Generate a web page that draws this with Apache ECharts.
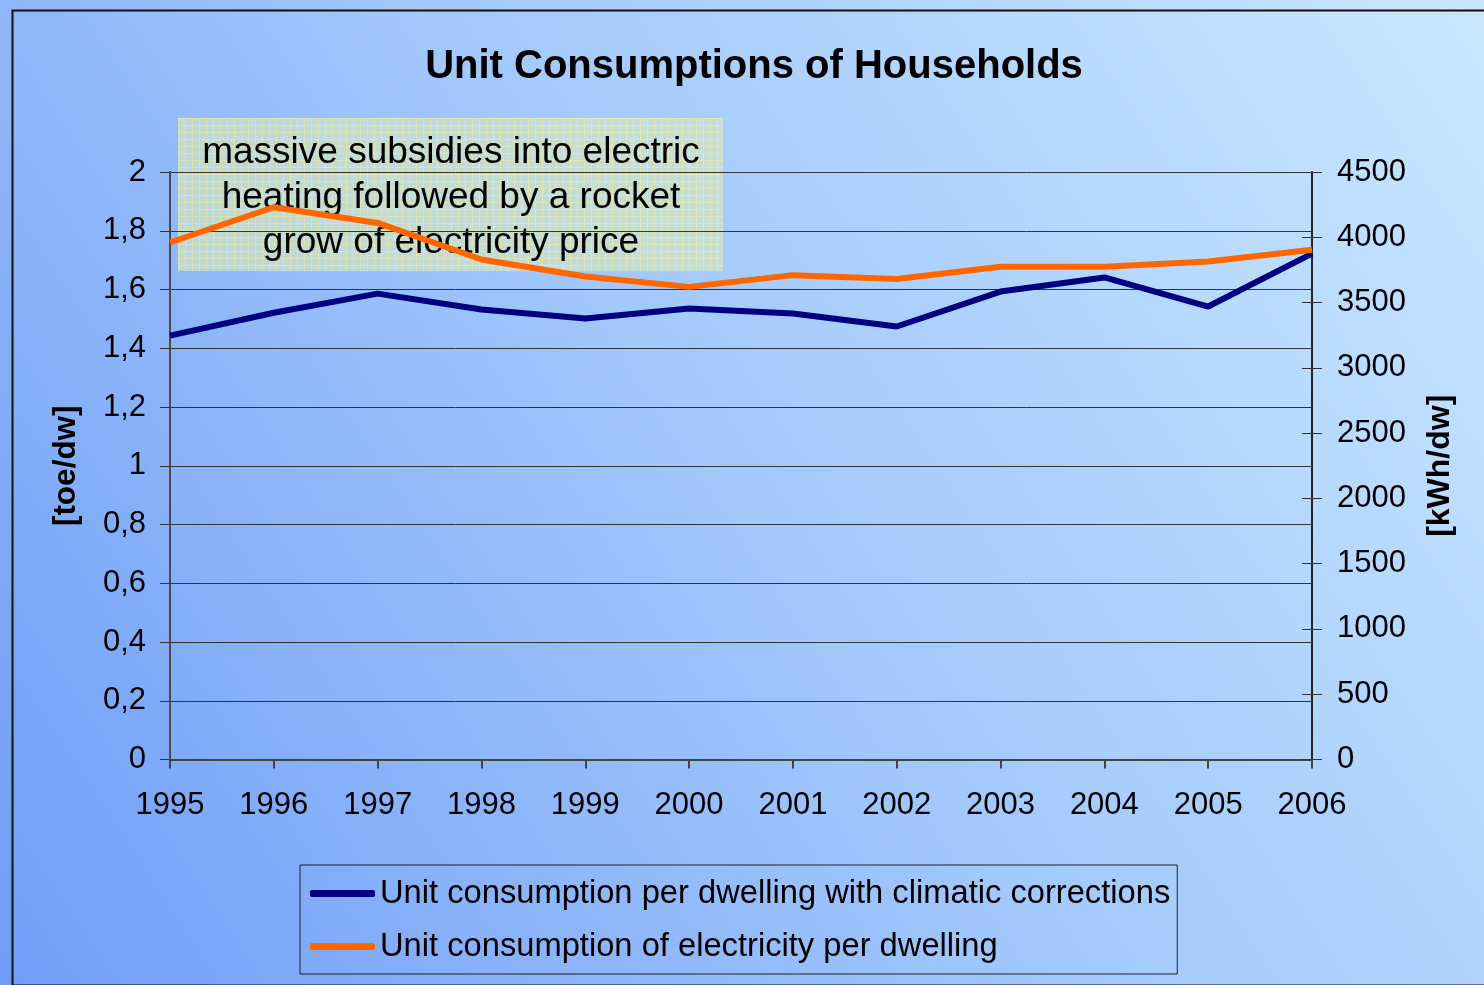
<!DOCTYPE html>
<html>
<head>
<meta charset="utf-8">
<script src="https://cdn.jsdelivr.net/npm/echarts@6/dist/echarts.min.js"></script>
<style>
html,body{margin:0;padding:0;background:#6f9bf4;}
#chart{width:1484px;height:985px;}
</style>
</head>
<body>
<div id="chart"></div>
<script>
// years on the x axis
let years = ["1995","1996","1997","1998","1999","2000","2001","2002","2003","2004","2005","2006"]
// toe per dwelling, climate corrected (left axis)
let unitCons = [1.443,1.521,1.586,1.532,1.501,1.535,1.518,1.474,1.593,1.641,1.542,1.722]
// kWh per dwelling (right axis)
let elecCons = [3960,4230,4110,3830,3700,3620,3710,3680,3775,3775,3815,3905]

let seriesNames = ["Unit consumption per dwelling with climatic corrections","Unit consumption of electricity per dwelling"]
let noteText = "massive subsidies into electric\nheating followed by a rocket\ngrow of electricity price"

let FONT = "Liberation Sans, Arial, sans-serif"

let chart = echarts.init(document.getElementById("chart"))

/** yellow grid pattern for the note box */
function notePattern(){
    let c = document.createElement("canvas")
    c.width = 7
    c.height = 7
    let ctx = c.getContext("2d")
    ctx.fillStyle = "#d3e3c6"
    ctx.fillRect(0,0,7,7)
    ctx.fillStyle = "#f3f39c"
    ctx.fillRect(0,0,7,1)
    ctx.fillRect(0,0,1,7)
    return c
}

let commaFmt = v => String(+v.toFixed(1)).replace(".",",")

chart.setOption({
    backgroundColor:{
        type:"linear",x:0,y:1,x2:1,y2:0,
        colorStops:[
            {offset:0,color:"#709df7"},
            {offset:0.5,color:"#a2c8fc"},
            {offset:1,color:"#c8e7ff"}
        ]
    },
    title:{
        text:"Unit Consumptions of Households",
        left:749,
        top:42,
        textAlign:"center",
        textStyle:{fontFamily:FONT,fontSize:40,fontWeight:"bold",color:"#000"}
    },
    legend:{
        orient:"vertical",
        left:300,
        top:865,
        padding:[12,7,11,10],
        itemGap:20,
        itemWidth:65,
        itemHeight:7,
        icon:"roundRect",
        borderColor:"#222",
        borderWidth:1,
        textStyle:{fontFamily:FONT,fontSize:32.7,color:"#000",lineHeight:32},
        data:seriesNames
    },
    grid:{left:170,right:172,top:172,bottom:225.5,containLabel:false},
    xAxis:{
        type:"category",
        data:years,
        boundaryGap:false,
        axisLine:{lineStyle:{color:"#444",width:2}},
        axisTick:{length:9,lineStyle:{color:"#444",width:2}},
        axisLabel:{fontFamily:FONT,fontSize:31,color:"#000",margin:30}
    },
    yAxis:[
        {
            type:"value",min:0,max:2,interval:0.2,
            name:"[toe/dw]",nameLocation:"middle",nameRotate:90,nameGap:88,
            nameTextStyle:{fontFamily:FONT,fontSize:31.5,fontWeight:"bold",color:"#000"},
            axisLine:{show:true,lineStyle:{color:"#4a4a4a",width:2}},
            axisTick:{show:true,length:10,lineStyle:{color:"#333"}},
            axisLabel:{fontFamily:FONT,fontSize:31,color:"#000",margin:24,formatter:commaFmt},
            splitLine:{show:true,lineStyle:{color:"#333",width:1}}
        },
        {
            type:"value",min:0,max:4500,interval:500,position:"right",
            name:"[kWh/dw]",nameLocation:"middle",nameRotate:90,nameGap:112,
            nameTextStyle:{fontFamily:FONT,fontSize:32,fontWeight:"bold",color:"#000"},
            axisLine:{show:true,lineStyle:{color:"#222",width:2}},
            axisTick:{show:true,length:10,lineStyle:{color:"#333"}},
            axisLabel:{fontFamily:FONT,fontSize:31,color:"#000",margin:25,formatter:v=>String(v)},
            splitLine:{show:false}
        },
        {
            // inner half of the crossing ticks on the right axis
            type:"value",min:0,max:4500,interval:500,position:"right",
            axisLine:{show:false},
            axisTick:{show:true,inside:true,length:10,lineStyle:{color:"#333"}},
            axisLabel:{show:false},
            splitLine:{show:false}
        }
    ],
    series:[
        {
            name:seriesNames[0],
            type:"line",
            yAxisIndex:0,
            data:unitCons,
            symbol:"none",
            lineStyle:{color:"#000080",width:6},
            itemStyle:{color:"#000080"},
            z:3
        },
        {
            name:seriesNames[1],
            type:"line",
            yAxisIndex:1,
            data:elecCons,
            symbol:"none",
            lineStyle:{color:"#ff6600",width:6},
            itemStyle:{color:"#ff6600"},
            z:3
        }
    ],
    graphic:[
        {
            type:"rect",
            left:10,top:8,z:0,silent:true,
            shape:{width:1490,height:975},
            style:{fill:null,stroke:"#111",lineWidth:2}
        },
        {
            type:"group",
            left:178,top:118,z:100,
            children:[
                {
                    type:"rect",
                    shape:{x:0,y:0,width:545,height:153},
                    style:{fill:{image:notePattern(),repeat:"repeat"},opacity:0.72}
                },
                {
                    type:"text",
                    x:273,y:80,
                    style:{
                        text:noteText,
                        font:"37px " + FONT,
                        fill:"#000",
                        align:"center",
                        verticalAlign:"middle",
                        lineHeight:45
                    }
                }
            ]
        }
    ]
})
</script>
</body>
</html>
